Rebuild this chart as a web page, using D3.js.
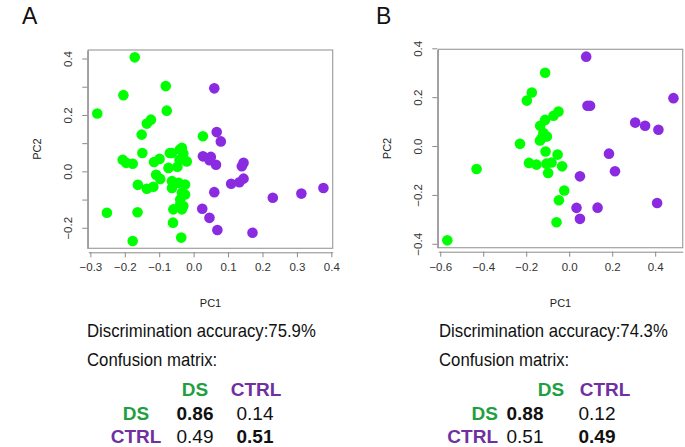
<!DOCTYPE html>
<html><head><meta charset="utf-8">
<script src="https://cdn.jsdelivr.net/npm/d3@7"></script>
<style>body{margin:0;background:#fff}svg{display:block}text{font-family:"Liberation Sans",Arial,sans-serif}</style>
</head><body>
<script>
// ---- data ----
const groups = ["DS", "CTRL"];
const panelLabels = ["A", "B"];
const accuracies = ["75.9%", "74.3%"];
const A_DS = [[-0.171,0.406],[-0.081,0.304],[-0.204,0.272],[-0.280,0.207],[-0.078,0.217],[-0.124,0.185],[-0.136,0.171],[-0.151,0.132],[0.027,0.126],
[-0.149,0.067],[-0.206,0.043],[-0.196,0.032],[-0.177,0.029],[-0.115,0.035],[-0.099,0.046],[-0.063,0.067],[-0.034,0.085],[-0.030,0.065],[-0.020,0.037],[-0.041,0.043],[-0.073,0.014],[-0.047,0.018],[-0.109,-0.010],[-0.097,-0.025],[-0.162,-0.046],[-0.136,-0.060],[-0.117,-0.053],[-0.063,-0.033],[-0.044,-0.039],[-0.025,-0.045],[-0.063,-0.057],[-0.034,-0.074],[-0.025,-0.080],[-0.039,-0.098],[-0.039,-0.116],[-0.030,-0.121],[-0.059,-0.133],[-0.034,-0.133],[-0.252,-0.145],[-0.163,-0.143],[-0.060,-0.180],[-0.177,-0.245],[-0.036,-0.233],[-0.069,0.067],[-0.040,0.079]];
const A_CTRL = [[0.060,0.296],[0.067,0.141],[0.079,0.108],[0.027,0.055],[0.050,0.053],[0.046,0.041],[0.065,0.025],[0.145,0.032],[0.140,0.020],[0.145,-0.024],[0.133,-0.037],[0.109,-0.042],[0.060,-0.072],[0.230,-0.092],[0.313,-0.077],[0.377,-0.057],[0.025,-0.131],[0.046,-0.163],[0.069,-0.206],[0.171,-0.216]];
const B_DS = [[-0.112,0.302],[-0.174,0.221],[-0.197,0.188],[-0.050,0.143],[-0.073,0.126],[-0.112,0.109],[-0.135,0.085],[-0.120,0.055],[-0.127,0.035],[-0.104,0.041],[-0.229,0.011],[-0.136,0.025],[-0.110,-0.020],[-0.054,-0.033],[-0.187,-0.067],[-0.152,-0.074],[-0.106,-0.070],[-0.082,-0.065],[-0.033,-0.081],[-0.098,-0.108],[-0.431,-0.092],[-0.023,-0.180],[-0.048,-0.220],[-0.059,-0.310],[-0.567,-0.384]];
const B_CTRL = [[0.079,0.368],[0.085,0.167],[0.097,0.167],[0.485,0.198],[0.307,0.098],[0.353,0.085],[0.415,0.069],[0.185,-0.029],[0.213,-0.101],[0.050,-0.122],[0.034,-0.251],[0.050,-0.296],[0.132,-0.250],[0.409,-0.231]];
const A_xTicks = [-0.3,-0.2,-0.1,0.0,0.1,0.2,0.3,0.4];
const A_yTicks = [-0.2,-0.1,0.0,0.1,0.2,0.3,0.4];
const A_yLabels = [-0.2,0.0,0.2,0.4];
const B_xTicks = [-0.6,-0.4,-0.2,0.0,0.2,0.4];
const B_yTicks = [-0.4,-0.2,0.0,0.2,0.4];
const B_yLabels = [-0.4,-0.2,0.0,0.2,0.4];
const A_xDomain = [-0.306,0.404], A_yDomain = [-0.271,0.432];
const B_xDomain = [-0.609,0.528], B_yDomain = [-0.414,0.398];
const A_matrix = [[0.86,0.14],[0.49,0.51]];
const B_matrix = [[0.88,0.12],[0.51,0.49]];

// ---- layout ----
const W = 685, H = 447;
const ptColor = {DS:"#00ff00", CTRL:"#8a2be2"};
const txtColor = {DS:"#1fa040", CTRL:"#7030a0"};
const svg = d3.select("body").append("svg").attr("width",W).attr("height",H);

const panels = [
  {label:panelLabels[0], lx:22, box:[88.3,50,332.7,248.3], xd:A_xDomain, yd:A_yDomain, xt:A_xTicks, yt:A_yTicks, yl:A_yLabels, ds:A_DS, ctrl:A_CTRL,
   acc:accuracies[0], tx:87, m:A_matrix, rowX:136, rowAnchor:"middle", head:[195,256], col:[195,255]},
  {label:panelLabels[1], lx:376, box:[438.3,49.3,682.7,247.7], xd:B_xDomain, yd:B_yDomain, xt:B_xTicks, yt:B_yTicks, yl:B_yLabels, ds:B_DS, ctrl:B_CTRL,
   acc:accuracies[1], tx:439, m:B_matrix, rowX:498, rowAnchor:"end", head:[551,605], col:[525,597]}
];

function squeezed(g, x, y, size, str) {
  g.append("text").attr("transform",`translate(${x},${y}) scale(0.93,1)`).attr("font-size",size).attr("fill","#111").text(str);
}

panels.forEach(p => {
  const [x0,y0,x1,y1] = p.box;
  const x = d3.scaleLinear().domain(p.xd).range([x0,x1]);
  const y = d3.scaleLinear().domain(p.yd).range([y1,y0]);
  const g = svg.append("g");
  g.append("text").attr("x",p.lx).attr("y",24).attr("font-size",23).attr("fill","#111").text(p.label);
  g.append("rect").attr("x",x0).attr("y",y0).attr("width",x1-x0).attr("height",y1-y0)
    .attr("fill","none").attr("stroke","#a0a0a0").attr("stroke-width",1.2);
  const xa = g.append("g").attr("transform",`translate(0,${y1+4})`)
    .call(d3.axisBottom(x).tickValues(p.xt).tickSize(5).tickSizeOuter(0).tickFormat(d3.format(".1f")));
  const ya = g.append("g").attr("transform",`translate(${x0-1},0)`)
    .call(d3.axisLeft(y).tickValues(p.yt).tickSize(5).tickSizeOuter(0).tickFormat(d => p.yl.some(v=>Math.abs(v-d)<1e-9) ? d3.format(".1f")(d) : ""));
  [xa,ya].forEach(a => {
    a.selectAll("path,line").attr("stroke","#8a8a8a");
    a.selectAll("text").attr("font-size",11.5).attr("fill","#333").attr("font-family","Liberation Sans, Arial, sans-serif");
  });
  xa.selectAll("text").attr("dy",null).attr("y",19);
  ya.selectAll(".tick").attr("transform",null);
  ya.selectAll(".tick line").attr("transform",d=>`translate(0,${y(d)})`);
  ya.selectAll("text").attr("transform","rotate(-90)").attr("x",d=>-y(d)).attr("y",-15).attr("dy",null).attr("text-anchor","middle");
  [["DS",p.ds],["CTRL",p.ctrl]].forEach(([grp,data]) => {
    g.append("g").selectAll("circle").data(data).join("circle")
      .attr("cx",d=>x(d[0])).attr("cy",d=>y(d[1])).attr("r",5.3).attr("fill",ptColor[grp]);
  });
  g.append("text").attr("x",(x0+x1)/2).attr("y",307).attr("text-anchor","middle").attr("font-size",11).attr("fill","#222").text("PC1");
  g.append("text").attr("transform",`translate(${x0-47},${(y0+y1)/2}) rotate(-90)`).attr("text-anchor","middle").attr("font-size",11).attr("fill","#222").text("PC2");
  squeezed(g, p.tx, 337, 18, "Discrimination accuracy:"+p.acc);
  squeezed(g, p.tx, 366, 18, "Confusion matrix:");
  groups.forEach((grp,j) => {
    g.append("text").attr("x",p.head[j]).attr("y",396).attr("text-anchor","middle").attr("font-size",19).attr("font-weight","bold").attr("fill",txtColor[grp]).text(grp);
  });
  groups.forEach((grp,i) => {
    const yy = 420 + i*23;
    g.append("text").attr("x",p.rowX).attr("y",yy).attr("text-anchor",p.rowAnchor).attr("font-size",19).attr("font-weight","bold").attr("fill",txtColor[grp]).text(grp);
    p.m[i].forEach((v,j) => {
      g.append("text").attr("x",p.col[j]).attr("y",yy).attr("text-anchor","middle").attr("font-size",19)
        .attr("font-weight", i===j ? "bold" : "normal").attr("fill","#111").text(v.toFixed(2));
    });
  });
});
</script>
</body></html>
